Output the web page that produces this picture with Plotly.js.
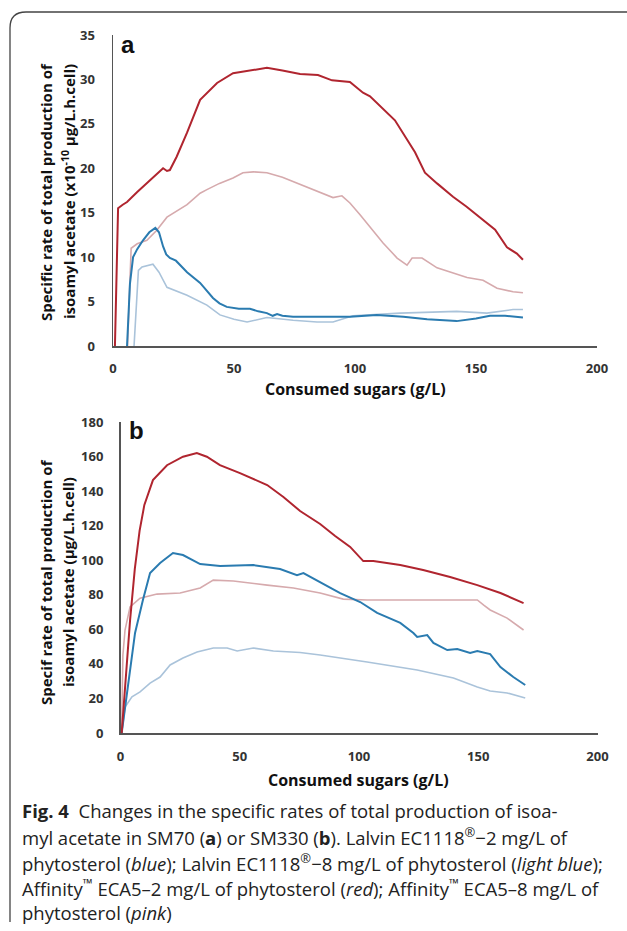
<!DOCTYPE html>
<html>
<head>
<meta charset="utf-8">
<script src="https://cdn.plot.ly/plotly-3.0.1.min.js"></script>
<style>html,body{margin:0;padding:0;background:#fff;}#chart{width:627px;height:931px;}</style>
</head>
<body>
<div id="chart"></div>
<script>
// ---- Panel a (SM70) ----
const aRedX  = [0.8, 2.1, 4, 5.8, 9.9, 15.3, 20.7, 22.3, 23.5, 26.3, 30.6, 36, 43, 49.6, 57, 63.6, 70, 77.3, 84.7, 90.5, 97.9, 103.3, 106.2, 116.5, 124.8, 128.9, 133.9, 140.5, 146, 151.7, 157.9, 162.8, 166.9, 169.4];
const aRedY  = [0, 15.5, 15.9, 16.2, 17.3, 18.7, 20.0, 19.7, 19.8, 21.3, 24.0, 27.7, 29.6, 30.7, 31.0, 31.3, 31.0, 30.6, 30.5, 29.9, 29.7, 28.5, 28.1, 25.4, 21.8, 19.5, 18.3, 16.8, 15.7, 14.5, 13.1, 11.1, 10.4, 9.7];
const aPinkX = [6.0, 7.5, 10, 14, 18, 22.3, 30.6, 36, 38.8, 44, 49.6, 53.7, 58, 63.6, 70, 77.3, 84, 90.9, 94.6, 97.9, 102, 106.2, 111.6, 117.4, 121.5, 123.6, 127.7, 133.9, 140, 146.3, 152.9, 158.7, 165.3, 169.4];
const aPinkY = [0, 11.0, 11.5, 11.9, 13.0, 14.5, 15.9, 17.2, 17.6, 18.3, 18.9, 19.5, 19.6, 19.5, 19.0, 18.2, 17.5, 16.7, 16.9, 16.1, 14.8, 13.4, 11.6, 9.9, 9.1, 9.9, 9.9, 8.8, 8.3, 7.7, 7.4, 6.5, 6.1, 6.0];
const aBlueX = [5.8, 7.0, 8.3, 10, 12.4, 15, 17.5, 19, 20.7, 22, 23.5, 26, 30.6, 36, 41.3, 44, 47, 52, 56.6, 60, 63.6, 66, 67.8, 70, 74.4, 84.3, 98, 109, 120, 129.8, 142, 150, 155.8, 162, 169.4];
const aBlueY = [0, 7, 10.0, 10.9, 11.9, 12.8, 13.3, 12.8, 11.2, 10.3, 9.9, 9.6, 8.3, 7.1, 5.4, 4.8, 4.4, 4.2, 4.2, 3.9, 3.7, 3.4, 3.6, 3.4, 3.3, 3.3, 3.3, 3.5, 3.3, 3.0, 2.8, 3.1, 3.4, 3.4, 3.2];
const aLbluX = [8.7, 10.5, 12, 16.5, 19, 22.3, 30.6, 38.8, 44.2, 50, 55.4, 63.6, 74.4, 84.3, 90.9, 99.2, 118.6, 132.2, 142, 154.5, 165.3, 169.4];
const aLbluY = [0, 8.5, 8.9, 9.2, 8.3, 6.6, 5.7, 4.6, 3.5, 3.0, 2.7, 3.2, 2.9, 2.7, 2.7, 3.4, 3.7, 3.8, 3.9, 3.7, 4.1, 4.1];

// ---- Panel b (SM330) ----
const bRedX  = [0.5, 2, 4, 6, 8, 10, 13.6, 19.5, 26.2, 32, 36.2, 41.7, 50.1, 61.5, 68.3, 75.3, 83.7, 90, 96.3, 101.8, 106, 117.3, 126.9, 138.2, 149.6, 159.3, 169];
const bRedY  = [0, 30, 65, 95, 117, 132, 146.4, 155, 159.9, 162, 159.9, 155, 150.4, 143.5, 136.6, 128.5, 121, 114, 107.7, 99.5, 99.5, 97.2, 94.3, 90.3, 85.6, 81, 75.2];
const bBlueX = [0.5, 1.9, 4, 6.1, 9.4, 12.4, 16.6, 22, 26.2, 33.4, 41.8, 55.7, 66.9, 74, 76.7, 83.7, 92.1, 96.3, 100.5, 107.6, 117.3, 122.8, 124.4, 128.6, 131.2, 137, 141.2, 146.6, 149.6, 155, 159.3, 164.7, 169.7];
const bBlueY = [0, 15, 36.5, 57.9, 77, 92.6, 98.4, 104.2, 103, 97.8, 96.7, 97.2, 94.9, 91.4, 92.6, 87.2, 81, 78.4, 75.8, 69.5, 63.7, 57.9, 55.6, 56.7, 52.1, 48, 48.6, 46.3, 47.5, 45.7, 38.2, 32.4, 27.8];
const bPinkX = [0.5, 1, 1.9, 4, 8.2, 15.3, 25, 33.4, 38.9, 47.3, 61.5, 72.5, 83.7, 93.4, 103.4, 149.6, 152.3, 155, 162.1, 169];
const bPinkY = [0, 45, 59.6, 73, 78, 80.4, 81, 83.9, 88.5, 88, 85.6, 83.9, 81, 77.5, 77, 77, 74, 71.2, 66.5, 59.6];
const bLbluX = [0.5, 1.9, 4.8, 8.2, 12.4, 16.6, 20.8, 26.2, 32.1, 38.9, 44.7, 48.9, 55.7, 64.1, 75.3, 83.7, 103.4, 117.3, 124.4, 139.6, 149.6, 155, 162.1, 169.7];
const bLbluY = [0, 15, 21, 23.8, 28.9, 32.4, 39.4, 43.4, 46.9, 49.2, 49.2, 47.5, 49.2, 47.5, 46.6, 45.1, 41.1, 38.2, 36.5, 31.8, 26.6, 24.3, 23.2, 20.3];

const xTicks = [0, 50, 100, 150, 200];
const aYTicks = [0, 5, 10, 15, 20, 25, 30, 35];
const bYTicks = [0, 20, 40, 60, 80, 100, 120, 140, 160, 180];

const xTitle = 'Consumed sugars (g/L)';
const aYTitle1 = 'Specific rate of total production of';
const aYTitle2 = 'isoamyl acetate (x10<sup>-10</sup> µg/L.h.cell)';
const bYTitle1 = 'Specif rate of total production of';
const bYTitle2 = 'isoamyl acetate (µg/L.h.cell)';
const caption = [
  '<b>Fig. 4</b>  Changes in the specific rates of total production of isoa-',
  'myl acetate in SM70 (<b>a</b>) or SM330 (<b>b</b>). Lalvin EC1118<sup>®</sup>−2 mg/L of',
  'phytosterol (<i>blue</i>); Lalvin EC1118<sup>®</sup>−8 mg/L of phytosterol (<i>light blue</i>);',
  'Affinity<sup>™</sup> ECA5–2 mg/L of phytosterol (<i>red</i>); Affinity<sup>™</sup> ECA5–8 mg/L of',
  'phytosterol (<i>pink</i>)'
];

const W = 627, H = 931;
const px = v => v / W;
const py = v => 1 - v / H;

const RED = '#b0252f', PINK = '#d6aaad', BLUE = '#2a7bb0', LBLUE = '#aac3da';

function tr(x, y, color, w, xa, ya) {
  return {x: x, y: y, type: 'scatter', mode: 'lines', xaxis: xa, yaxis: ya,
    line: {color: color, width: w}, hoverinfo: 'skip', showlegend: false};
}

const data = [
  tr(aPinkX, aPinkY, PINK, 1.6, 'x', 'y'),
  tr(aLbluX, aLbluY, LBLUE, 1.6, 'x', 'y'),
  tr(aBlueX, aBlueY, BLUE, 2, 'x', 'y'),
  tr(aRedX, aRedY, RED, 2, 'x', 'y'),
  tr(bLbluX, bLbluY, LBLUE, 1.6, 'x2', 'y2'),
  tr(bPinkX, bPinkY, PINK, 1.6, 'x2', 'y2'),
  tr(bBlueX, bBlueY, BLUE, 2, 'x2', 'y2'),
  tr(bRedX, bRedY, RED, 2, 'x2', 'y2')
];

const tickFont = {family: 'Open Sans, sans-serif', size: 13, color: '#333', weight: 'bold'};
const axBase = {showgrid: false, zeroline: false, showline: true, linecolor: '#555', linewidth: 1.5,
  ticks: '', tickfont: tickFont, fixedrange: true};

const layout = {
  width: W, height: H,
  margin: {l: 0, r: 0, t: 0, b: 0},
  paper_bgcolor: '#fff', plot_bgcolor: 'rgba(0,0,0,0)',
  showlegend: false,
  xaxis: Object.assign({}, axBase, {domain: [px(113), px(597)], range: [0, 200], tickvals: xTicks, ticklabelstandoff: 10, anchor: 'y'}),
  yaxis: Object.assign({}, axBase, {domain: [py(346), py(35)], range: [0, 35], tickvals: aYTicks, ticklabelstandoff: 14, anchor: 'x'}),
  xaxis2: Object.assign({}, axBase, {domain: [px(120.5), px(597.5)], range: [0, 200], tickvals: xTicks, ticklabelstandoff: 11, anchor: 'y2'}),
  yaxis2: Object.assign({}, axBase, {domain: [py(733), py(422)], range: [0, 180], tickvals: bYTicks, ticklabelstandoff: 13, anchor: 'x2'}),
  shapes: [
    {type: 'path', xref: 'paper', yref: 'paper',
     path: 'M ' + px(10) + ' ' + py(922) + ' L ' + px(10) + ' ' + py(28) +
           ' Q ' + px(10) + ' ' + py(12) + ' ' + px(26) + ' ' + py(12) +
           ' L ' + px(627) + ' ' + py(12),
     line: {color: '#444', width: 1.3}}
  ],
  annotations: []
};

const titleFont = {family: 'Open Sans, sans-serif', size: 16, color: '#111', weight: 'bold'};
const yTitleFont = {family: 'Open Sans, sans-serif', size: 15, color: '#111', weight: 'bold'};
function ann(text, x, y, font, opts) {
  return Object.assign({text: text, xref: 'paper', yref: 'paper', x: px(x), y: py(y),
    showarrow: false, font: font, xanchor: 'center', yanchor: 'middle'}, opts || {});
}
layout.annotations.push(ann(xTitle, 355, 389, titleFont));
layout.annotations.push(ann(xTitle, 359, 780, titleFont));
layout.annotations.push(ann(aYTitle1, 46, 192, yTitleFont, {textangle: -90}));
layout.annotations.push(ann(aYTitle2, 68, 192, yTitleFont, {textangle: -90}));
layout.annotations.push(ann(bYTitle1, 46, 582, yTitleFont, {textangle: -90}));
layout.annotations.push(ann(bYTitle2, 68, 582, yTitleFont, {textangle: -90}));
const labFont = {family: 'Liberation Sans, Arial, sans-serif', size: 24, color: '#111', weight: 'bold'};
layout.annotations.push(ann('a', 128, 45, labFont));
layout.annotations.push(ann('b', 136, 430, labFont));
const capFont = {family: 'Open Sans, sans-serif', size: 18.5, color: '#222'};
const capY = [810, 836, 862, 887, 912];
caption.forEach((t, i) => {
  layout.annotations.push(ann(t, 20, capY[i], capFont, {xanchor: 'left', align: 'left'}));
});

Plotly.newPlot('chart', data, layout, {staticPlot: true, displayModeBar: false});
</script>
</body>
</html>
